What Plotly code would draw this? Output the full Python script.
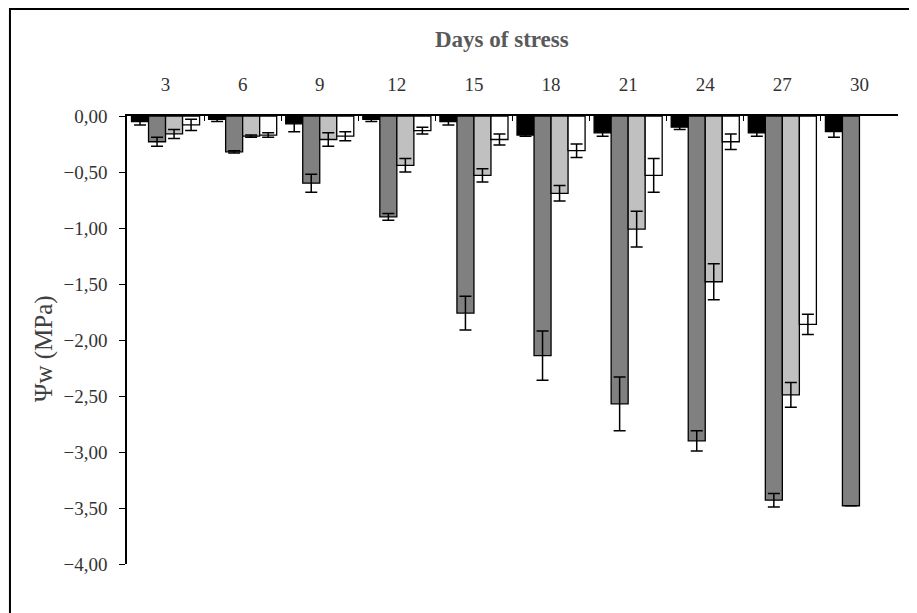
import plotly.graph_objects as go

days = ["3", "6", "9", "12", "15", "18", "21", "24", "27", "30"]

s1_vals = [-0.05, -0.03, -0.07, -0.03, -0.05, -0.17, -0.15, -0.10, -0.15, -0.14]
s1_err = [0.03, 0.02, 0.07, 0.02, 0.03, 0.01, 0.03, 0.02, 0.03, 0.05]

s2_vals = [-0.23, -0.32, -0.60, -0.90, -1.76, -2.14, -2.57, -2.90, -3.43, -3.48]
s2_err = [0.04, 0.01, 0.08, 0.03, 0.15, 0.22, 0.24, 0.09, 0.06, 0.0]

s3_vals = [-0.16, -0.18, -0.21, -0.44, -0.53, -0.69, -1.01, -1.48, -2.49, None]
s3_err = [0.04, 0.01, 0.06, 0.06, 0.06, 0.07, 0.16, 0.16, 0.11, 0.0]

s4_vals = [-0.08, -0.17, -0.18, -0.13, -0.21, -0.31, -0.53, -0.23, -1.86, None]
s4_err = [0.05, 0.02, 0.04, 0.03, 0.05, 0.06, 0.15, 0.07, 0.09, 0.0]

series = [
    ("Series 1", s1_vals, s1_err, "#000000"),
    ("Series 2", s2_vals, s2_err, "#808080"),
    ("Series 3", s3_vals, s3_err, "#c0c0c0"),
    ("Series 4", s4_vals, s4_err, "#ffffff"),
]

FONT = "Liberation Serif, Times New Roman, serif"

fig = go.Figure()
for name, vals, err, color in series:
    fig.add_trace(go.Bar(
        x=days, y=vals, name=name,
        marker=dict(color=color, line=dict(color="#000000", width=1.3)),
        error_y=dict(type="data", array=err, symmetric=True, visible=True,
                     color="#000000", thickness=1.5, width=6),
        showlegend=False,
    ))

# page body adds an 8px offset; plot area lands at x 127-898, y 116-564
fig.update_layout(
    width=917, height=613,
    margin=dict(l=119, r=27, t=108, b=57),
    paper_bgcolor="white", plot_bgcolor="white",
    barmode="group", bargap=0.117, bargroupgap=0,
    separators=",.",
    font=dict(family=FONT, color="#404040", size=19),
)

fig.update_xaxes(
    type="category", side="top", showline=True, linecolor="#000000", linewidth=1.5,
    ticks="inside", tickson="boundaries", ticklen=5, tickcolor="#000000", tickwidth=1,
    showgrid=False, zeroline=False, ticklabelstandoff=16,
    tickfont=dict(family=FONT, size=19, color="#333333"),
)
fig.update_yaxes(
    range=[-4, 0], dtick=0.5, tickformat=".2f",
    showline=True, linecolor="#000000", linewidth=1.5,
    ticks="outside", ticklen=6, tickcolor="#000000", tickwidth=1,
    showgrid=False, zeroline=False, ticklabelstandoff=8,
    tickfont=dict(family=FONT, size=19, color="#333333"),
)

fig.add_annotation(
    text="<b>Days of stress</b>", xref="paper", yref="paper",
    x=0.486, y=1.17, xanchor="center", yanchor="middle", showarrow=False,
    font=dict(family=FONT, size=23, color="#595959"),
)
fig.add_annotation(
    text="Ψw (MPa)", xref="paper", yref="paper", textangle=-90,
    x=-0.1077, y=0.482, xanchor="center", yanchor="middle", showarrow=False,
    font=dict(family=FONT, size=25, color="#404040"),
)

fig.add_shape(
    type="rect", xref="paper", yref="paper",
    x0=-0.1518, x1=1.2, y0=-0.3, y1=1.2388,
    line=dict(color="#000000", width=2), layer="below",
)

fig.write_html("out.html")
